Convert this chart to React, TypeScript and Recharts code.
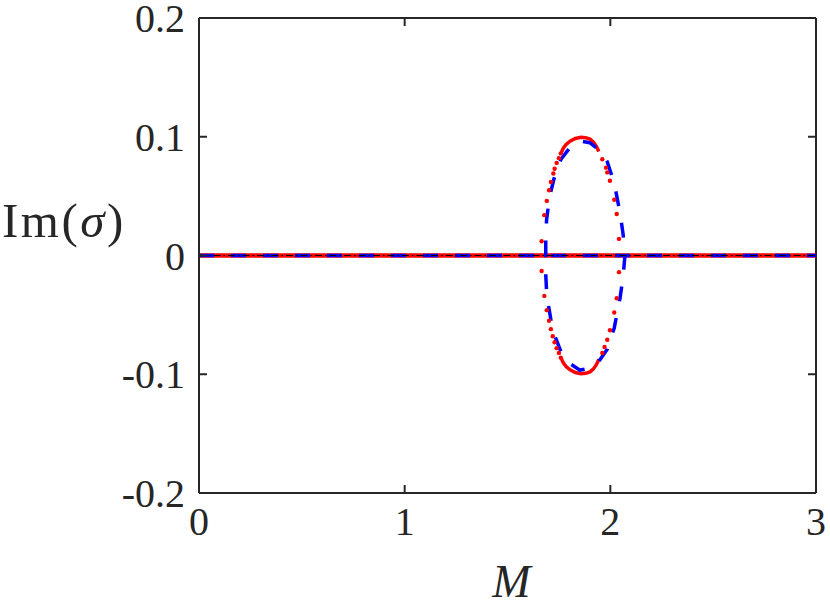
import React from 'react';
import { LineChart, Line, XAxis, YAxis, Label, ReferenceLine } from 'recharts';

const xTicks = [0, 1, 2, 3];
const yTicks = [-0.2, -0.1, 0, 0.1, 0.2];
const xRange = [0, 3];
const yRange = [-0.2, 0.2];

// branch with Im = 0 over the whole range
const zeroM = [0, 3];
const zeroIm = [0, 0];

// red markers on the loop (sparse part)
const redDotM = [
  1.666, 1.679, 1.691, 1.702, 1.711, 1.723, 1.729, 1.739, 1.75, 1.759,
  1.961, 1.979, 1.985, 1.998, 2.019, 2.031, 2.042,
  1.666, 1.679, 1.691, 1.702, 1.711, 1.72, 1.729, 1.739, 1.75, 1.759,
  1.961, 1.972, 1.985, 1.998, 2.019, 2.031, 2.042,
];
const redDotIm = [
  0.012, 0.034, 0.046, 0.055, 0.062, 0.069, 0.073, 0.078, 0.082, 0.086,
  0.081, 0.074, 0.07, 0.063, 0.047, 0.035, 0.014,
  -0.013, -0.034, -0.046, -0.055, -0.062, -0.068, -0.073, -0.078, -0.082, -0.086,
  -0.082, -0.077, -0.071, -0.063, -0.048, -0.036, -0.014,
];

// red markers packed so tight near the extremes they read as a line
const redTopM = [1.762, 1.772, 1.785, 1.804, 1.83, 1.857, 1.88, 1.901, 1.918, 1.932, 1.944];
const redTopIm = [0.087, 0.0905, 0.0935, 0.0963, 0.0985, 0.0995, 0.0992, 0.098, 0.0955, 0.092, 0.0875];
const redBotM = [1.762, 1.772, 1.785, 1.804, 1.83, 1.857, 1.88, 1.901, 1.918, 1.932, 1.944];
const redBotIm = [-0.087, -0.0905, -0.0935, -0.0963, -0.0985, -0.0995, -0.0992, -0.098, -0.0955, -0.092, -0.0875];

// blue dashed loop, traced round once
const blueM = [
  1.686, 1.686, 1.69, 1.699, 1.711, 1.731, 1.76, 1.804, 1.852, 1.9, 1.945, 1.985, 2.019, 2.047, 2.062, 2.071,
  2.062, 2.047, 2.019, 1.985, 1.945, 1.9, 1.852, 1.804, 1.76, 1.731, 1.711, 1.699, 1.69, 1.686, 1.686,
];
const blueIm = [
  0, 0.016, 0.03, 0.042, 0.054, 0.068, 0.081, 0.091, 0.0965, 0.095, 0.089, 0.079, 0.061, 0.036, 0.018, 0,
  -0.018, -0.036, -0.061, -0.079, -0.089, -0.095, -0.0965, -0.091, -0.081, -0.068, -0.054, -0.042, -0.03, -0.016, 0,
];

const rows = (m: number[], v: number[]) => m.map((x, i) => ({ m: x, im: v[i] }));

const AXIS = '#262626';
const FONT = '"Liberation Serif", "DejaVu Serif", serif';
const TICK_LEN = 8;
const X_GAP = 14;
const Y_GAP = 14;
// tick length on the top / right edges, in data units (8px)
const TOP_TICK = 0.0068;
const RIGHT_TICK = 0.039;

// inward tick marks + labels (matlab style)
const BottomTick = (p: any) => {
  const axisY = p.y - X_GAP;
  return (
    <g>
      <line x1={p.x} x2={p.x} y1={axisY} y2={axisY - TICK_LEN} stroke={AXIS} strokeWidth={2} />
      <text x={p.x} y={p.y} dy="0.71em" textAnchor="middle" fontFamily={FONT} fontSize={40} fill="#262626">
        {p.payload.value}
      </text>
    </g>
  );
};

const LeftTick = (p: any) => {
  const axisX = p.x + Y_GAP;
  return (
    <g>
      <line x1={axisX} x2={axisX + TICK_LEN} y1={p.y} y2={p.y} stroke={AXIS} strokeWidth={2} />
      <text x={p.x} y={p.y} dy="0.355em" textAnchor="end" fontFamily={FONT} fontSize={40} fill="#262626">
        {String(p.payload.value)}
      </text>
    </g>
  );
};

const YTitle = (props: any) => {
  const vb = props.viewBox;
  return (
    <text x={vb.x + 2} y={vb.y + 219} fontFamily={FONT} fontSize={49} letterSpacing={2.5} fill="#262626">
      Im(<tspan fontStyle="italic">σ</tspan>)
    </text>
  );
};

const XTitle = (props: any) => {
  const vb = props.viewBox;
  return (
    <text
      x={vb.x + vb.width / 2 + 4}
      y={vb.y + 104}
      textAnchor="middle"
      fontFamily={FONT}
      fontSize={46}
      fontStyle="italic"
      fill="#262626"
    >
      M
    </text>
  );
};

const lineBase = {
  type: 'linear' as const,
  dataKey: 'im',
  activeDot: false,
  isAnimationActive: false,
};

export default function App() {
  return (
    <div style={{ position: 'absolute', left: 0, top: 0, background: '#fff' }}>
      <LineChart width={830} height={604} margin={{ top: 18, right: 14, left: 0, bottom: 0 }}>
        <XAxis
          type="number"
          dataKey="m"
          domain={xRange}
          ticks={xTicks}
          allowDataOverflow
          height={111}
          stroke={AXIS}
          strokeWidth={2}
          tickLine={false}
          tickSize={0}
          tickMargin={X_GAP}
          tick={<BottomTick />}
        >
          <Label content={<XTitle />} />
        </XAxis>
        <YAxis
          type="number"
          domain={yRange}
          ticks={yTicks}
          allowDataOverflow
          width={199}
          stroke={AXIS}
          strokeWidth={2}
          tickLine={false}
          tickSize={0}
          tickMargin={Y_GAP}
          tick={<LeftTick />}
        >
          <Label content={<YTitle />} />
        </YAxis>

        {/* box edges + inward ticks on top and right */}
        <ReferenceLine stroke={AXIS} strokeWidth={2.2} ifOverflow="visible"
          segment={[{ x: xRange[0], y: yRange[1] }, { x: xRange[1], y: yRange[1] }]} />
        <ReferenceLine stroke={AXIS} strokeWidth={2} ifOverflow="visible"
          segment={[{ x: xRange[1], y: yRange[0] }, { x: xRange[1], y: yRange[1] }]} />
        {xTicks.slice(1, -1).map((t) => (
          <ReferenceLine key={'tx' + t} stroke={AXIS} strokeWidth={2} ifOverflow="visible"
            segment={[{ x: t, y: yRange[1] }, { x: t, y: yRange[1] - TOP_TICK }]} />
        ))}
        {yTicks.slice(1, -1).map((t) => (
          <ReferenceLine key={'ty' + t} stroke={AXIS} strokeWidth={2} ifOverflow="visible"
            segment={[{ x: xRange[1], y: t }, { x: xRange[1] - RIGHT_TICK, y: t }]} />
        ))}

        <Line {...lineBase} data={rows(zeroM, zeroIm)}
          stroke="#ff0000" strokeWidth={4.5} dot={false} />
        <Line {...lineBase} data={rows(redTopM, redTopIm)}
          stroke="#ff0000" strokeWidth={3.5} dot={false} />
        <Line {...lineBase} data={rows(redBotM, redBotIm)}
          stroke="#ff0000" strokeWidth={3.5} dot={false} />
        <Line {...lineBase} data={rows(redDotM, redDotIm)}
          stroke="none" dot={{ r: 2.2, fill: '#ff0000', stroke: 'none' }} />
        <Line {...lineBase} data={rows(zeroM, zeroIm)}
          stroke="#0000ff" strokeWidth={3.5} strokeDasharray="15 17" dot={false} />
        <Line {...lineBase} data={rows(blueM, blueIm)}
          stroke="#0000ff" strokeWidth={3.5} strokeDasharray="15 17" dot={false} />
        <Line {...lineBase} data={rows(zeroM, zeroIm)}
          stroke="#000000" strokeWidth={1.2} strokeDasharray="7 3 1.5 3" dot={false} />
      </LineChart>
    </div>
  );
}
